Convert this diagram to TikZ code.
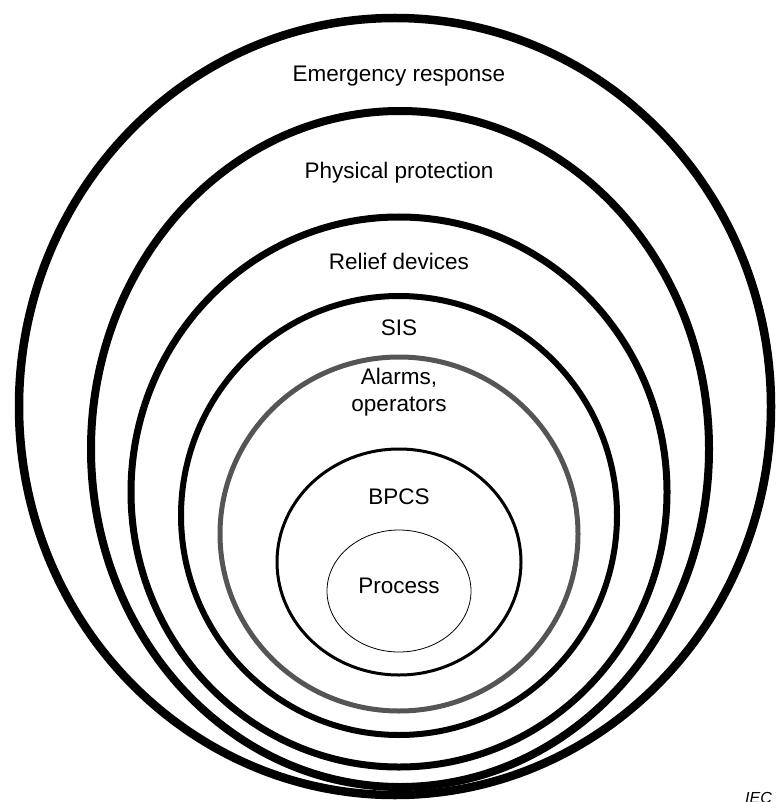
\documentclass[tikz,border=0pt]{standalone}
\usepackage{fontspec}
\setmainfont{Liberation Sans}
\begin{document}
\begin{tikzpicture}[x=1pt,y=-1pt,
  layer/.style={line width=#1},
  label/.style={font=\fontsize{22.5}{27}\selectfont, inner sep=0pt, align=center}]
\useasboundingbox (0,0) rectangle (776,802);
% nested protection layers, outermost first
\draw[layer=8.5] (395,406.5) ellipse [x radius=376, y radius=388.5];
\draw[layer=8]   (400,449)   ellipse [x radius=309, y radius=338];
\draw[layer=7]   (399,492)   ellipse [x radius=268, y radius=275];
\draw[layer=6]   (399,515.5) ellipse [x radius=218, y radius=219.5];
\draw[layer=5, color={rgb,255:red,85;green,85;blue,85}] (399,534) ellipse [x radius=179, y radius=177];
\draw[layer=3]   (399,562)   ellipse [x radius=122, y radius=113];
\draw[layer=0.8] (399,591)   ellipse [x radius=72,  y radius=61];
% layer names
\node[label] (er)   at (399,76)  {Emergency response};
\node[label] (pp)   at (399,173) {Physical protection};
\node[label] (rd)   at (399,261) {Relief devices};
\node[label] (sis)  at (399,328) {SIS};
\node[label] (al)   at (399,392) {Alarms,\\operators};
\node[label] (bpcs) at (399,497) {BPCS};
\node[label] (proc) at (399,586) {Process};
\node[anchor=base west, inner sep=0pt, font=\fontsize{16}{18}\selectfont\itshape] (iec) at (745,803.5) {IEC};
\end{tikzpicture}
\end{document}
